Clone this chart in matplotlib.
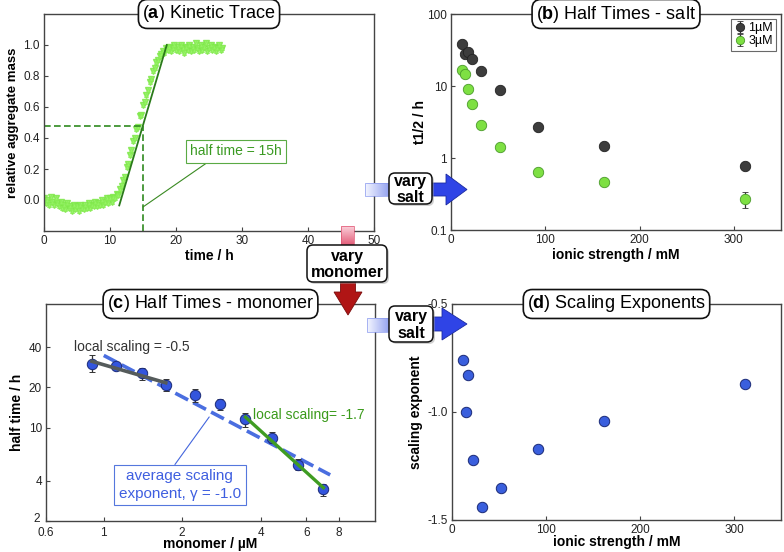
import numpy as np
import matplotlib
matplotlib.use('Agg')
from matplotlib import pyplot as plt
from matplotlib import patches
from matplotlib import transforms
from matplotlib.colors import LinearSegmentedColormap
from matplotlib.ticker import FixedLocator, FixedFormatter, NullLocator

plt.rcParams['font.family'] = 'Liberation Sans'
plt.rcParams['mathtext.fontset'] = 'custom'
plt.rcParams['mathtext.rm'] = 'Liberation Sans'
plt.rcParams['mathtext.bf'] = 'Liberation Sans:bold'

# (a) kinetic trace, sampled every 0.25 h
trace = [0.01, -0.02, 0.00, -0.03, 0.02, -0.01, -0.03, 0.01, -0.02, -0.04,
         -0.01, -0.05, -0.03, -0.06, -0.02, -0.05, -0.04, -0.07, -0.03, -0.06,
         -0.04, -0.07, -0.03, -0.05, -0.06, -0.03, -0.05, -0.02, -0.05, -0.03,
         -0.04, -0.01, -0.04, -0.02, -0.03, 0.00, -0.03, -0.01, 0.01, -0.02,
         0.01, -0.01, 0.02, 0.01, 0.04, 0.03, 0.07, 0.09, 0.13, 0.15,
         0.21, 0.23, 0.29, 0.32, 0.38, 0.40, 0.46, 0.47, 0.54, 0.55,
         0.61, 0.63, 0.68, 0.71, 0.76, 0.78, 0.83, 0.85, 0.89, 0.90,
         0.93, 0.94, 0.96, 0.95, 0.98, 0.97, 0.99, 0.96, 0.98, 1.00,
         0.97, 0.99, 0.96, 1.00, 0.98, 0.95, 0.99, 0.97, 1.00, 0.96,
         0.99, 0.97, 1.01, 0.98, 0.96, 1.00, 0.97, 0.99, 1.01, 0.96,
         0.98, 1.00, 0.97, 0.99, 0.96, 0.98, 1.00, 0.97, 0.98]
trace_dt = 0.25
half_time = 15
half_level = 0.48
tangent_t = [11.4, 18.6]
tangent_y = [-0.035, 1.0]

# (b) half times vs ionic strength
ionic = [12, 15, 17.5, 22, 32, 52, 92, 162, 312]
thalf_1uM = [38.7, 27.8, 29.4, 23.7, 16.3, 8.7, 2.67, 1.48, 0.77]
thalf_1uM_err = [0, 0, 0, 3.1, 0, 0, 0, 0, 0]
thalf_3uM = [16.7, 14.7, 9.1, 5.56, 2.87, 1.42, 0.64, 0.47, 0.27]
thalf_3uM_err = [0, 0, 0, 0, 0, 0, 0, 0, 0.065]

# (c) half times vs monomer
monomer = [0.90, 1.115, 1.40, 1.73, 2.24, 2.79, 3.50, 4.42, 5.59, 6.97]
thalf_mono = [30.0, 28.9, 25.5, 20.7, 17.5, 14.9, 11.5, 8.4, 5.28, 3.46]
thalf_mono_hi = [34.6, 29.5, 27.8, 23.0, 19.4, 16.4, 12.8, 9.3, 5.85, 3.80]
thalf_mono_lo = [25.9, 28.3, 22.7, 18.8, 15.6, 13.5, 10.1, 7.6, 4.84, 3.10]

# (d) scaling exponents vs ionic strength
exponents = [-0.76, -1.0, -0.83, -1.22, -1.44, -1.35, -1.17, -1.04, -0.87]

W, H = 784, 552
fig = plt.figure(figsize=(W / 100, H / 100), dpi=100)


def box_axes(l, t, r, b):
    return fig.add_axes([l / W, 1 - b / H, (r - l) / W, (b - t) / H])


def style(ax):
    for s in ax.spines.values():
        s.set_color('#444444')
        s.set_linewidth(1.0)
    ax.tick_params(direction='in', length=3, width=0.8, labelsize=8.5,
                   colors='#444444', labelcolor='#222222', pad=3)


def title(ax, letter, txt):
    ax.text(0.5, 1.0, r'($\mathbf{' + letter + '}$) ' + txt, transform=ax.transAxes,
            ha='center', va='center', fontsize=13, zorder=10, clip_on=False,
            bbox=dict(boxstyle='round,pad=0.22,rounding_size=0.5', fc='white',
                      ec='#111111', lw=1.2))


lab = dict(fontsize=10, fontweight='bold')

# ---- (a)
ax = box_axes(44, 14, 374, 231)
style(ax)
t = np.arange(len(trace)) * trace_dt
ax.plot(t, trace, ls='', marker='v', ms=4, color='#8cf25a', mec='#7fe84a',
        mew=1.0, alpha=0.85)
ax.plot(t, trace, ls='', marker='^', ms=3, color='#9af56a', mec='#86ec52',
        mew=0.6, alpha=0.7)
ax.plot(tangent_t, tangent_y, color='#2a7a1a', lw=1.3)
ax.plot([0, half_time], [half_level, half_level], color='#2f8a1f', lw=1.2, ls=(0, (4, 2)))
ax.plot([half_time, half_time], [-0.2, half_level], color='#2f8a1f', lw=1.2, ls=(0, (4, 2)))
ax.annotate('half time = 15h', xy=(half_time, -0.045), xytext=(29.1, 0.313),
            ha='center', va='center', fontsize=10, color='#3a9a22',
            bbox=dict(boxstyle='square,pad=0.3', fc='white', ec='#5aaa44', lw=0.8),
            arrowprops=dict(arrowstyle='-', color='#3a8a22', lw=0.8, shrinkA=0, shrinkB=0,
                            relpos=(0.25, 0.0)))
ax.set_xlim(0, 50)
ax.set_ylim(-0.2, 1.2)
ax.set_xticks([0, 10, 20, 30, 40, 50])
ax.set_yticks([0.0, 0.2, 0.4, 0.6, 0.8, 1.0])
ax.set_yticklabels(['0.0', '0.2', '0.4', '0.6', '0.8', '1.0'])
ax.set_xlabel('time / h', labelpad=1, **lab)
ax.set_ylabel('relative aggregate mass', labelpad=3, fontsize=9.5, fontweight='bold')
title(ax, 'a', 'Kinetic Trace')

# ---- (b)
ax = box_axes(451, 14, 781, 230)
style(ax)
ax.errorbar(ionic, thalf_1uM, yerr=thalf_1uM_err, ls='', marker='o', ms=7.5,
            color='#3d3d3d', mec='#222222', mew=0.6, ecolor='#333333', elinewidth=0.9,
            capsize=2, label='1µM', zorder=3)
ax.errorbar(ionic, thalf_3uM, yerr=thalf_3uM_err, ls='', marker='o', ms=7.5,
            color='#7ee043', mec='#4a9a2a', mew=0.6, ecolor='#333333', elinewidth=0.9,
            capsize=2, label='3µM', zorder=3)
ax.set_yscale('log')
ax.set_xlim(0, 350)
ax.set_ylim(0.1, 100)
ax.set_xticks([0, 100, 200, 300])
ax.yaxis.set_major_locator(FixedLocator([0.1, 1, 10, 100]))
ax.yaxis.set_major_formatter(FixedFormatter(['0.1', '1', '10', '100']))
ax.yaxis.set_minor_locator(NullLocator())
ax.set_xlabel('ionic strength / mM', labelpad=1, **lab)
ax.set_ylabel('t1/2 / h', labelpad=0, **lab)
leg = ax.legend(loc='upper right', fontsize=9, handletextpad=0.2, handlelength=0.9,
                borderpad=0.25, labelspacing=0.1, borderaxespad=0.4, fancybox=False,
                markerscale=0.8)
leg.get_frame().set_edgecolor('#444444')
leg.get_frame().set_linewidth(0.8)
title(ax, 'b', 'Half Times - salt')

# ---- (c)
ax = box_axes(46, 304, 375, 521)
style(ax)
xm = np.array(monomer)
ym = np.array(thalf_mono)
yerr = [ym - np.array(thalf_mono_lo), np.array(thalf_mono_hi) - ym]
lx, ly = np.log10(xm), np.log10(ym)
p_all = np.polyfit(lx, ly, 1)
p_lo = np.polyfit(lx[:4], ly[:4], 1)
p_hi = np.polyfit(lx[6:], ly[6:], 1)
xx = np.array([1.0, 7.4])
ax.plot(xx, 10 ** np.polyval(p_all, np.log10(xx)), color='#4a6ee0', lw=2.6,
        ls=(0, (4, 1.6)), zorder=2)
xx = xm[[0, 3]]
ax.plot(xx, 10 ** np.polyval(p_lo, np.log10(xx)), color='#555b5b', lw=2.6, zorder=4)
xx = xm[[6, 9]]
ax.plot(xx, 10 ** np.polyval(p_hi, np.log10(xx)), color='#3f9c22', lw=2.4, zorder=4)
ax.errorbar(xm, ym, yerr=yerr, ls='', marker='o', ms=7.5, color='#3355dd',
            mec='#1a2a77', mew=0.7, ecolor='#333333', elinewidth=0.9, capsize=2.5,
            zorder=3)
ax.set_xscale('log')
ax.set_yscale('log')
ax.set_xlim(0.6, 11)
ax.set_ylim(2, 84)
ax.xaxis.set_major_locator(FixedLocator([0.6, 1, 2, 4, 6, 8]))
ax.xaxis.set_major_formatter(FixedFormatter(['0.6', '1', '2', '4', '6', '8']))
ax.xaxis.set_minor_locator(NullLocator())
ax.yaxis.set_major_locator(FixedLocator([2, 4, 10, 20, 40]))
ax.yaxis.set_major_formatter(FixedFormatter(['2', '4', '10', '20', '40']))
ax.yaxis.set_minor_locator(NullLocator())
ax.tick_params(axis='x', pad=4)
fig.canvas.draw()
ax.get_yticklabels()[0].set_transform(ax.get_yticklabels()[0].get_transform() +
                                      transforms.ScaledTranslation(-2 / 100, 4 / 100,
                                                                   fig.dpi_scale_trans))
ax.text(0.77, 40, 'local scaling = -0.5', fontsize=10, color='#333333',
        ha='left', va='center')
ax.text(3.75, 12.5, 'local scaling= -1.7', fontsize=10, color='#3a9a1a',
        ha='left', va='center')
ax.annotate('average scaling\nexponent, γ = -1.0', xy=(2.54, 12.0), xytext=(1.96, 3.71),
            ha='center', va='center', fontsize=11, color='#3f5fe0', linespacing=1.3,
            bbox=dict(boxstyle='square,pad=0.3', fc='white', ec='#5577dd', lw=0.8),
            arrowprops=dict(arrowstyle='-', color='#4466dd', lw=0.8, shrinkA=0, shrinkB=0,
                            relpos=(0.43, 1.0)))
ax.set_xlabel('monomer / µM', labelpad=-1, **lab)
ax.set_ylabel('half time / h', labelpad=3, **lab)
title(ax, 'c', 'Half Times - monomer')

# ---- (d)
ax = box_axes(452, 304, 781, 520)
style(ax)
ax.plot(ionic, exponents, ls='', marker='o', ms=7.5, color='#3a5fdd', mec='#1a2a77',
        mew=0.7)
ax.set_xlim(0, 350)
ax.set_ylim(-1.5, -0.5)
ax.set_xticks([0, 100, 200, 300])
ax.set_yticks([-1.5, -1.0, -0.5])
ax.set_yticklabels(['-1.5', '-1.0', '-0.5'])
ax.set_xlabel('ionic strength / mM', labelpad=-1, **lab)
ax.set_ylabel('scaling exponent', labelpad=3, **lab)
title(ax, 'd', 'Scaling Exponents')

# ---- overlay with the "vary" arrows
ov = fig.add_axes([0, 0, 1, 1], zorder=20)
ov.set_xlim(0, W)
ov.set_ylim(H, 0)
ov.axis('off')
ov.patch.set_alpha(0)


def grad_rect(x0, x1, y0, y1, c0, c1, horizontal=True):
    cm = LinearSegmentedColormap.from_list('g', [c0, c1])
    g = np.linspace(0, 1, 64)
    img = g[None, :] if horizontal else g[:, None]
    ov.imshow(img, cmap=cm, extent=[x0, x1, y1, y0], aspect='auto', zorder=1,
              interpolation='bilinear')
    ov.add_patch(patches.Rectangle((x0, y0), x1 - x0, y1 - y0, fill=False,
                                   ec=c1, lw=0.5, zorder=1.1))


def vary_box(x0, y0, x1, y1, txt):
    ov.add_patch(patches.FancyBboxPatch((x0 + 2, y0 + 2), x1 - x0, y1 - y0,
                                        boxstyle='round,pad=0,rounding_size=6',
                                        fc='#999999', ec='none', alpha=0.45, zorder=3))
    ov.add_patch(patches.FancyBboxPatch((x0, y0), x1 - x0, y1 - y0,
                                        boxstyle='round,pad=0,rounding_size=6',
                                        fc='white', ec='#111111', lw=1.1, zorder=4))
    ov.text((x0 + x1) / 2, (y0 + y1) / 2 + 1, txt, ha='center', va='center',
            fontsize=11.5, fontweight='bold', linespacing=1.1, zorder=5)


def blue_head(xb, xh, xt, yc, hw, bw):
    pts = [(xb, yc - bw), (xh, yc - bw), (xh, yc - hw), (xt, yc), (xh, yc + hw),
           (xh, yc + bw), (xb, yc + bw)]
    ov.add_patch(patches.Polygon(pts, closed=True, fc='#2f44e6', ec='#1a2aa0',
                                 lw=0.6, zorder=2))


# upper vary salt
grad_rect(365, 392, 183, 196, '#f4f6ff', '#8898ee')
blue_head(430, 446, 467, 189.5, 15.5, 6.5)
vary_box(389, 173, 432, 204, 'vary\nsalt')

# lower vary salt
grad_rect(367, 392, 318, 332, '#f4f6ff', '#8898ee')
blue_head(431, 442, 467, 324, 16, 7)
vary_box(389, 306, 433, 342, 'vary\nsalt')

# vary monomer (downward)
grad_rect(341, 354, 226, 247, '#fbd0da', '#e0506e', horizontal=False)
ov.add_patch(patches.Polygon([(340.5, 280), (355.5, 280), (355.5, 292), (362, 292),
                              (348, 315), (334, 292), (340.5, 292)], closed=True,
                             fc='#b01515', ec='#7a0c0c', lw=0.6, zorder=2))
vary_box(307, 245, 387, 282, 'vary\nmonomer')

ov.set_xlim(0, W)
ov.set_ylim(H, 0)

fig.savefig('out.png', dpi=100)
